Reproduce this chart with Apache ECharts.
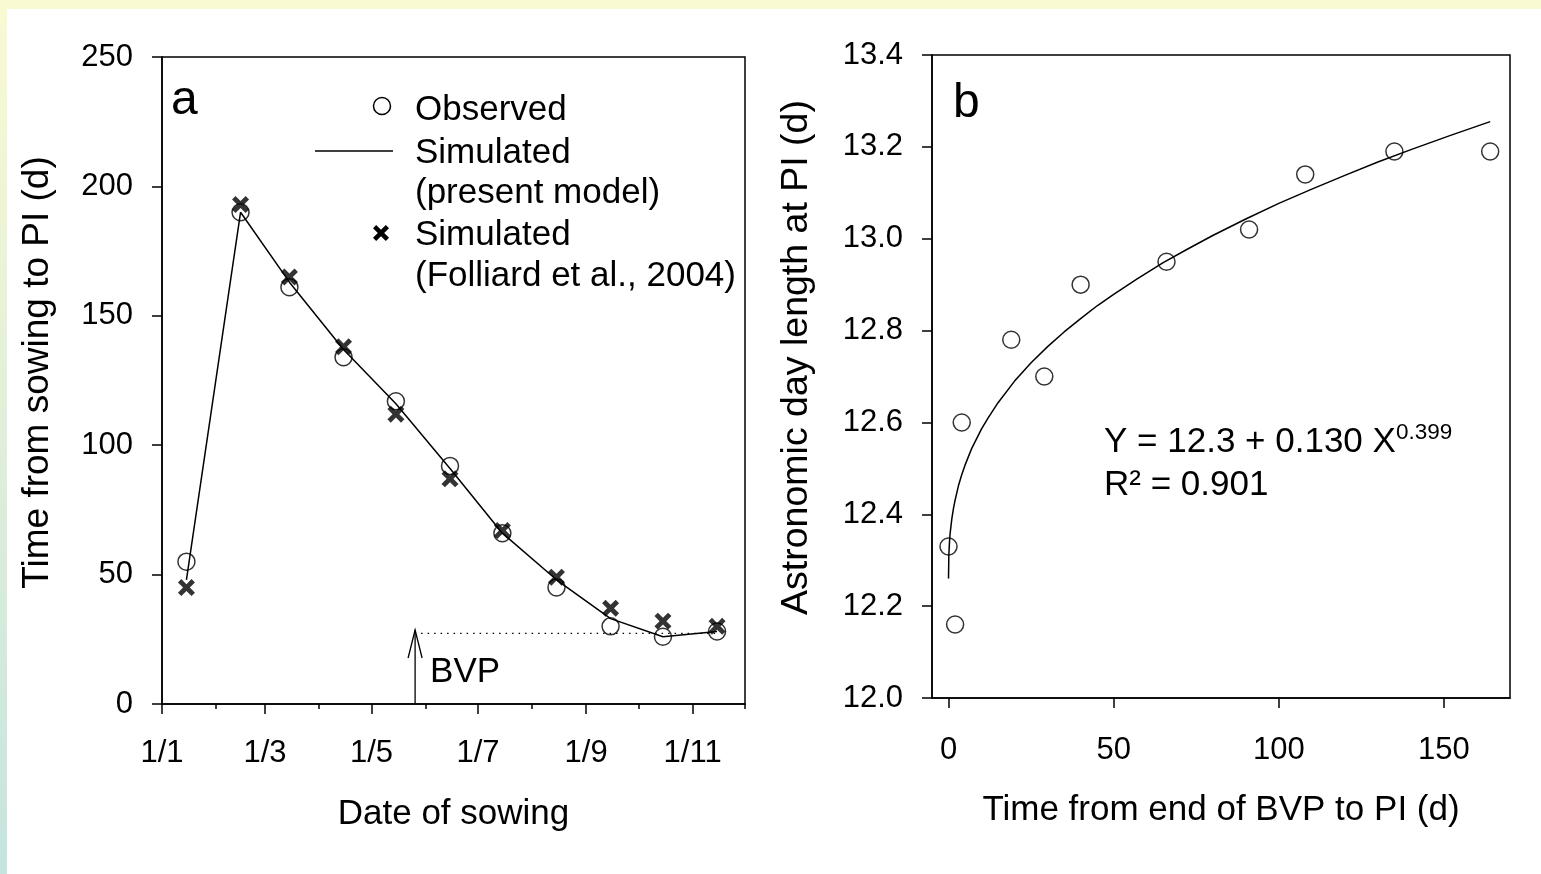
<!DOCTYPE html>
<html>
<head>
<meta charset="utf-8">
<title>Time from sowing to PI</title>
<script src="https://cdn.jsdelivr.net/npm/echarts@6/dist/echarts.min.js"></script>
<style>
html, body { margin: 0; padding: 0; background: #fff; }
#wrap { position: relative; width: 1541px; height: 874px; overflow: hidden; }
#topband { position: absolute; left: 0; top: 0; width: 1541px; height: 9px; background: #fafad2; }
#leftband { position: absolute; left: 0; top: 0; width: 7px; height: 874px; background: linear-gradient(#fafad2, #c5e4df); }
#main { position: absolute; left: 0; top: 0; width: 1541px; height: 874px; }
</style>
</head>
<body>
<div id="wrap"><div id="topband"></div><div id="leftband"></div><div id="main"></div></div>
<script>
// panel a : sowing on the 15th of each month, as day of year (1 Jan = 0)
var sowDay = [14, 45, 73, 104, 134, 165, 195, 226, 257, 287, 318];
var observedA = [55, 190, 161, 134, 117, 92, 66, 45, 30, 26, 28];
var simPresent = [48, 190, 163, 137, 116, 91, 66, 48, 33, 26, 28];
var simFolliard = [45, 193, 165, 138, 112, 87, 67, 49, 37, 32, 30];
// month starts (day of year) for the date axis
var majorMonthDay = [0, 59, 120, 181, 243, 304];
var majorMonthLabel = ['1/1', '1/3', '1/5', '1/7', '1/9', '1/11'];
var minorMonthDay = [31, 90, 151, 212, 273, 334];
// end of BVP arrow : [day, arrow top, dotted level, dotted end day]
var bvpMark = [[145, 28.6, 27.3, 318]];

// panel b
var bvpToPI = [0, 2, 4, 19, 29, 40, 66, 91, 108, 135, 164];
var dayLength = [12.33, 12.16, 12.60, 12.78, 12.70, 12.90, 12.95, 13.02, 13.14, 13.19, 13.19];
var fitX = [0, 0.1, 0.3, 0.5, 1, 1.5, 2, 3, 4, 5, 7, 10, 12, 15, 20, 25, 30, 35, 40, 45, 50, 57, 65, 72, 80, 90, 100, 110, 120, 130, 140, 152, 164];
var fitY = [12.260, 12.312, 12.340, 12.359, 12.390, 12.413, 12.431, 12.462, 12.486, 12.507, 12.543, 12.586, 12.610, 12.643, 12.690, 12.730, 12.765, 12.797, 12.826, 12.854, 12.879, 12.912, 12.948, 12.976, 13.007, 13.043, 13.077, 13.108, 13.138, 13.167, 13.194, 13.225, 13.255];

var FONT = "'Liberation Sans', Arial, sans-serif";
var crossPath = 'path://M0,20 L20,0 L50,30 L80,0 L100,20 L70,50 L100,80 L80,100 L50,70 L20,100 L0,80 L30,50 Z';

function zip(a, b) {
  return a.map(function (v, i) { return [v, b[i]]; });
}
function crossPoints(cx, cy, s) {
  var p = [[0,20],[20,0],[50,30],[80,0],[100,20],[70,50],[100,80],[80,100],[50,70],[20,100],[0,80],[30,50]];
  return p.map(function (q) { return [cx + (q[0] - 50) * s / 100, cy + (q[1] - 50) * s / 100]; });
}

var black = '#000';
var tickStyle = { color: black, width: 1.5 };

var chart = echarts.init(document.getElementById('main'));

var option = {
  animation: false,
  backgroundColor: 'transparent',
  textStyle: { fontFamily: FONT, color: black },
  grid: [
    { left: 162, top: 57, width: 583, height: 647, show: true, borderColor: black, borderWidth: 1.5 },
    { left: 932, top: 55, width: 578, height: 643, show: true, borderColor: black, borderWidth: 1.5 }
  ],
  xAxis: [
    {
      gridIndex: 0, type: 'value', min: 0, max: 334,
      axisLine: { show: true, onZero: false, lineStyle: tickStyle },
      splitLine: { show: false },
      axisTick: { show: true, length: 10, customValues: majorMonthDay, lineStyle: tickStyle },
      axisLabel: {
        customValues: majorMonthDay, fontSize: 31, color: black, fontFamily: FONT, margin: 34,
        formatter: function (v) { return majorMonthLabel[majorMonthDay.indexOf(v)]; }
      },
      name: 'Date of sowing', nameLocation: 'middle', nameGap: 93,
      nameTextStyle: { fontSize: 35, color: black, fontFamily: FONT }
    },
    {
      gridIndex: 0, type: 'value', min: 0, max: 334, position: 'bottom',
      axisLine: { show: false },
      splitLine: { show: false },
      axisTick: { show: true, length: 5, customValues: minorMonthDay, lineStyle: tickStyle },
      axisLabel: { show: false }
    },
    {
      gridIndex: 1, type: 'value', min: -5, max: 170,
      axisLine: { show: true, onZero: false, lineStyle: tickStyle },
      splitLine: { show: false },
      axisTick: { show: true, length: 10, customValues: [0, 50, 100, 150], lineStyle: tickStyle },
      axisLabel: { customValues: [0, 50, 100, 150], fontSize: 31, color: black, fontFamily: FONT, margin: 37 },
      name: 'Time from end of BVP to PI (d)', nameLocation: 'middle', nameGap: 95,
      nameTextStyle: { fontSize: 35, color: black, fontFamily: FONT }
    }
  ],
  yAxis: [
    {
      gridIndex: 0, type: 'value', min: 0, max: 250, interval: 50,
      axisLine: { show: true, onZero: false, lineStyle: tickStyle },
      splitLine: { show: false },
      axisTick: { show: true, length: 10, lineStyle: tickStyle },
      axisLabel: { fontSize: 31, color: black, fontFamily: FONT, margin: 29 },
      name: 'Time from sowing to PI (d)', nameLocation: 'middle', nameGap: 106,
      nameTextStyle: { fontSize: 37, color: black, fontFamily: FONT, padding: [0, 0, 0, 16] }
    },
    {
      gridIndex: 1, type: 'value', min: 12, max: 13.4, interval: 0.2,
      axisLine: { show: true, onZero: false, lineStyle: tickStyle },
      splitLine: { show: false },
      axisTick: { show: true, length: 10, lineStyle: tickStyle },
      axisLabel: {
        fontSize: 31, color: black, fontFamily: FONT, margin: 29,
        formatter: function (v) { return v.toFixed(1); }
      },
      name: 'Astronomic day length at PI (d)', nameLocation: 'middle', nameGap: 116,
      nameTextStyle: { fontSize: 37.5, color: black, fontFamily: FONT, padding: [0, 0, 0, 38] }
    }
  ],
  series: [
    {
      name: 'Simulated (present model)', type: 'line', xAxisIndex: 0, yAxisIndex: 0,
      data: zip(sowDay, simPresent), showSymbol: false, z: 2,
      lineStyle: { color: black, width: 1.5 }
    },
    {
      name: 'Observed', type: 'scatter', xAxisIndex: 0, yAxisIndex: 0,
      data: zip(sowDay, observedA), symbol: 'circle', symbolSize: 17, z: 3,
      itemStyle: { color: 'rgba(0,0,0,0)', borderColor: black, borderWidth: 1.5 }
    },
    {
      name: 'Simulated (Folliard et al., 2004)', type: 'scatter', xAxisIndex: 0, yAxisIndex: 0,
      data: zip(sowDay, simFolliard), symbol: crossPath, symbolSize: 17, z: 4,
      itemStyle: { color: black }
    },
    {
      name: 'BVP', type: 'custom', xAxisIndex: 0, yAxisIndex: 0, data: bvpMark, z: 1,
      renderItem: function (params, api) {
        var base = api.coord([api.value(0), 0]);
        var tip = api.coord([api.value(0), api.value(1)]);
        var dl = api.coord([api.value(0), api.value(2)]);
        var dr = api.coord([api.value(3), api.value(2)]);
        return {
          type: 'group',
          children: [
            { type: 'line', shape: { x1: base[0], y1: base[1], x2: tip[0], y2: tip[1] },
              style: { stroke: black, lineWidth: 1.3 } },
            { type: 'polyline', shape: { points: [[tip[0] - 7, tip[1] + 28], [tip[0], tip[1]], [tip[0] + 7, tip[1] + 28]] },
              style: { stroke: black, fill: null, lineWidth: 1.3 } },
            { type: 'line', shape: { x1: dl[0] + 6, y1: dl[1], x2: dr[0], y2: dr[1] },
              style: { stroke: black, lineWidth: 1.3, lineDash: [1.5, 5] } },
            { type: 'text', x: base[0] + 15, y: base[1] - 32,
              style: { text: 'BVP', fontSize: 35, fontFamily: FONT, fill: black, align: 'left', verticalAlign: 'middle' } }
          ]
        };
      }
    },
    {
      name: 'Fit', type: 'line', xAxisIndex: 2, yAxisIndex: 1,
      data: zip(fitX, fitY), showSymbol: false, z: 2,
      lineStyle: { color: black, width: 1.5 }
    },
    {
      name: 'Observed b', type: 'scatter', xAxisIndex: 2, yAxisIndex: 1,
      data: zip(bvpToPI, dayLength), symbol: 'circle', symbolSize: 17, z: 3,
      itemStyle: { color: 'rgba(0,0,0,0)', borderColor: black, borderWidth: 1.5 }
    }
  ],
  graphic: [
    { type: 'text', x: 171, y: 101, style: { text: 'a', fontSize: 48, fontFamily: FONT, fill: black, verticalAlign: 'middle' } },
    { type: 'text', x: 953, y: 104, style: { text: 'b', fontSize: 48, fontFamily: FONT, fill: black, verticalAlign: 'middle' } },
    // legend of panel a
    { type: 'circle', shape: { cx: 382, cy: 106, r: 8.5 }, style: { fill: 'none', stroke: black, lineWidth: 1.5 } },
    { type: 'line', shape: { x1: 315, y1: 151, x2: 393, y2: 151 }, style: { stroke: black, lineWidth: 1.5 } },
    { type: 'polygon', shape: { points: crossPoints(381, 233, 16) }, style: { fill: black } },
    { type: 'text', x: 415, y: 110, style: { text: 'Observed', fontSize: 35, fontFamily: FONT, fill: black, verticalAlign: 'middle' } },
    { type: 'text', x: 415, y: 153, style: { text: 'Simulated', fontSize: 35, fontFamily: FONT, fill: black, verticalAlign: 'middle' } },
    { type: 'text', x: 415, y: 193, style: { text: '(present model)', fontSize: 35, fontFamily: FONT, fill: black, verticalAlign: 'middle' } },
    { type: 'text', x: 415, y: 235, style: { text: 'Simulated', fontSize: 35, fontFamily: FONT, fill: black, verticalAlign: 'middle' } },
    { type: 'text', x: 415, y: 276, style: { text: '(Folliard et al., 2004)', fontSize: 35, fontFamily: FONT, fill: black, verticalAlign: 'middle' } },
    // regression of panel b
    {
      type: 'text', x: 1104, y: 421,
      style: {
        text: '{m|Y = 12.3 + 0.130 X}{s|0.399}\n{m|R² = 0.901}',
        fontFamily: FONT, fill: black, verticalAlign: 'top',
        rich: {
          m: { fontSize: 35, lineHeight: 43, fontFamily: FONT },
          s: { fontSize: 22.5, lineHeight: 22, verticalAlign: 'top', fontFamily: FONT }
        }
      }
    }
  ]
};

chart.setOption(option);
</script>
</body>
</html>
